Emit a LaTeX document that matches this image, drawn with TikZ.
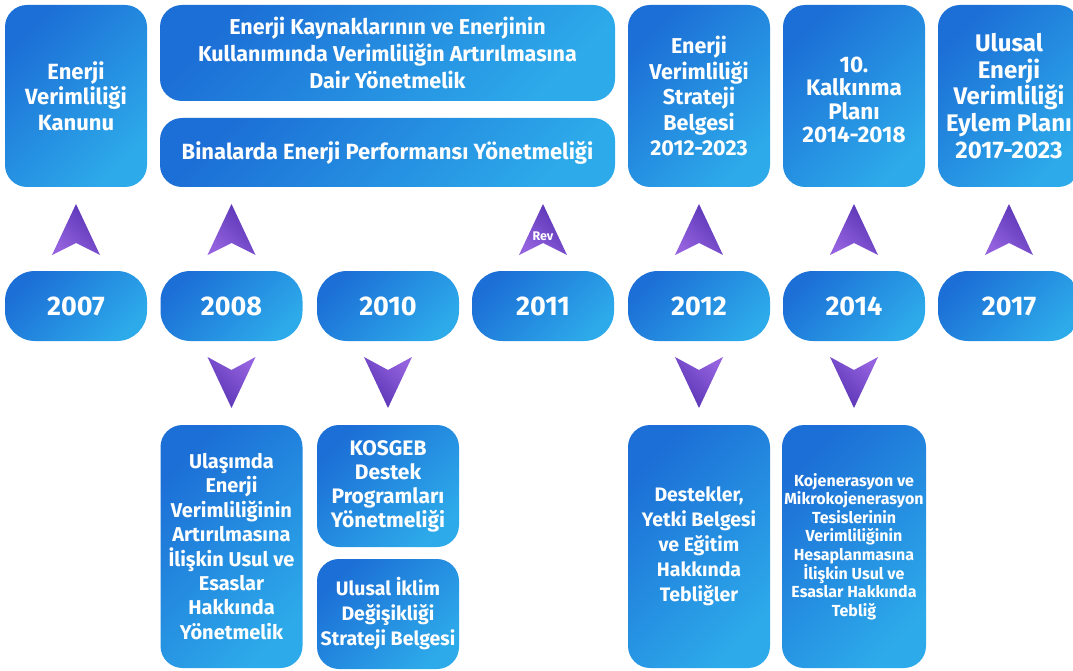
\documentclass[tikz,border=0pt]{standalone}
\usepackage{fontspec}
\setmainfont{Fira Sans}
\definecolor{bdark}{HTML}{1C6FD6}
\definecolor{blight}{HTML}{2DAAEA}
\definecolor{pdark}{HTML}{5733B4}
\definecolor{plight}{HTML}{9462DE}
\newcommand\fs[2]{\fontsize{#1}{#2}\selectfont\bfseries}
\tikzset{
  box/.style={rounded corners=22pt, top color=bdark, bottom color=blight, shading angle=45,
    text=white, align=center, inner sep=0pt, minimum width=142pt,
    font=\fs{19.5}{25}},
  yearbox/.style={box, rounded corners=30pt, minimum height=70pt,
    font=\fs{27}{30}},
  uparrow/.style={top color=pdark, bottom color=plight, shading angle=-45},
  downarrow/.style={top color=plight, bottom color=pdark, shading angle=-45},
}
\newcommand\myUp[1]{\shade[uparrow] (#1,204) -- (#1+24,255) -- (#1,243) -- (#1-24,255) -- cycle;}
\newcommand\myDown[1]{\shade[downarrow] (#1-24,357) -- (#1,370) -- (#1+24,357) -- (#1,408) -- cycle;}
\begin{document}
\begin{tikzpicture}[x=1pt,y=-1pt]
\clip (0,0) rectangle (1073,671);
\fill[white] (0,0) rectangle (1073,671);
% top row
\node[box, minimum height=182pt, font=\fs{22}{25.5}] (t2007) at (76,96) {Enerji\\Verimliliği\\Kanunu};
\node[box, minimum width=455pt, minimum height=96pt, font=\fs{21.5}{27}] (tA) at (387.5,53)
  {Enerji Kaynaklarının ve Enerjinin\\Kullanımında Verimliliğin Artırılmasına\\Dair Yönetmelik};
\node[box, minimum width=455pt, minimum height=69pt, font=\fs{22}{26}] (tB) at (387.5,152.5)
  {Binalarda Enerji Performansı Yönetmeliği};
\node[box, minimum height=182pt, font=\fs{21.5}{25.5}] (t2012) at (699,96) {Enerji\\Verimliliği\\Strateji\\Belgesi\\2012-2023};
\node[box, minimum height=182pt] (t2014) at (854,96) {};
\node[text=white, align=center, inner sep=0pt, font=\fs{22.5}{23.5}] (t2014txt) at (854,100) {10.\\Kalkınma\\Planı\\2014-2018};
\node[box, minimum height=182pt, font=\fs{24}{26.7}] (t2017) at (1009,96) {Ulusal\\Enerji\\Verimliliği\\Eylem Planı\\2017-2023};
% years
\node[yearbox] (y2007) at (76,306) {2007};
\node[yearbox] (y2008) at (231.5,306) {2008};
\node[yearbox] (y2010) at (388,306) {2010};
\node[yearbox] (y2011) at (543,306) {2011};
\node[yearbox] (y2012) at (699,306) {2012};
\node[yearbox] (y2014) at (854,306) {2014};
\node[yearbox] (y2017) at (1009,306) {2017};
% arrows
\myUp{76}
\myUp{231.5}
\myUp{543}
\myUp{699}
\myUp{854}
\myUp{1009}
\node[text=white, inner sep=0pt, font=\fs{12.5}{14}] (rev) at (543,236) {Rev};
\myDown{231.5}
\myDown{388}
\myDown{699}
\myDown{854}
% bottom row
\node[box, minimum height=243pt, font=\fs{20}{24.4}] (b2008) at (231.5,546.5)
  {Ulaşımda\\Enerji\\Verimliliğinin\\Artırılmasına\\İlişkin Usul ve\\Esaslar\\Hakkında\\Yönetmelik};
\node[box, minimum height=122pt, font=\fs{21}{24}] (b2010a) at (388,486) {KOSGEB\\Destek\\Programları\\Yönetmeliği};
\node[box, minimum height=110pt] (b2010b) at (388,614) {Ulusal İklim\\Değişikliği\\Strateji Belgesi};
\node[box, minimum height=243pt] (b2012) at (699,546.5)
  {Destekler,\\Yetki Belgesi\\ve Eğitim\\Hakkında\\Tebliğler};
\node[box, minimum width=144pt, minimum height=243pt, font=\fs{16}{18.6}] (b2014) at (854,546.5)
  {Kojenerasyon ve\\Mikrokojenerasyon\\Tesislerinin\\Verimliliğinin\\Hesaplanmasına\\İlişkin Usul ve\\Esaslar Hakkında\\Tebliğ};
\end{tikzpicture}
\end{document}
